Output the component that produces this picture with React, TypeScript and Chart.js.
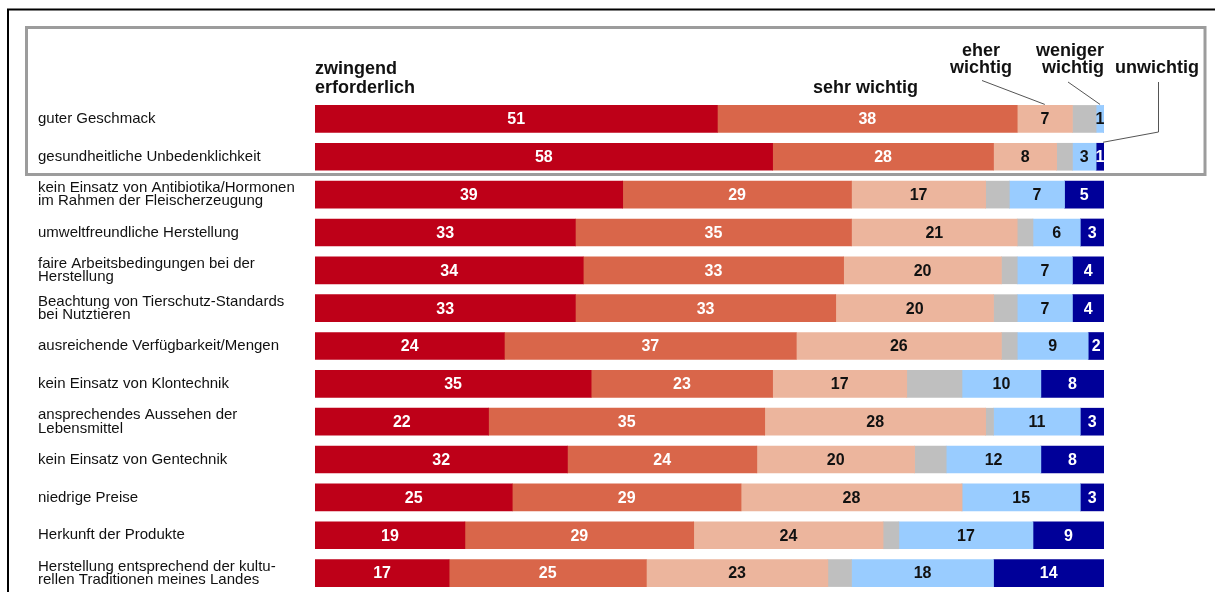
import { useEffect, useRef } from 'react';
import { Chart, registerables } from 'chart.js';

Chart.register(...registerables);

const categories: (string | string[])[] = [
  'guter Geschmack',
  'gesundheitliche Unbedenklichkeit',
  ['kein Einsatz von Antibiotika/Hormonen', 'im Rahmen der Fleischerzeugung'],
  'umweltfreundliche Herstellung',
  ['faire Arbeitsbedingungen bei der', 'Herstellung'],
  ['Beachtung von Tierschutz-Standards', 'bei Nutztieren'],
  'ausreichende Verfügbarkeit/Mengen',
  'kein Einsatz von Klontechnik',
  ['ansprechendes Aussehen der', 'Lebensmittel'],
  'kein Einsatz von Gentechnik',
  'niedrige Preise',
  'Herkunft der Produkte',
  ['Herstellung entsprechend der kultu-', 'rellen Traditionen meines Landes'],
];

const zwingend = [51, 58, 39, 33, 34, 33, 24, 35, 22, 32, 25, 19, 17];
const sehrWichtig = [38, 28, 29, 35, 33, 33, 37, 23, 35, 24, 29, 29, 25];
const eherWichtig = [7, 8, 17, 21, 20, 20, 26, 17, 28, 20, 28, 24, 23];
const keineAngabe = [3, 2, 3, 2, 2, 3, 2, 7, 1, 4, 0, 2, 3];
const wenigerWichtig = [1, 3, 7, 6, 7, 7, 9, 10, 11, 12, 15, 17, 18];
const unwichtig = [0, 1, 5, 3, 4, 4, 2, 8, 3, 8, 3, 9, 14];

const seriesNames = ['zwingend erforderlich', 'sehr wichtig', 'eher wichtig', 'keine Angabe', 'weniger wichtig', 'unwichtig'];
const seriesColors = ['#BE0018', '#D9664A', '#ECB59D', '#BFBFBF', '#99CCFF', '#000099'];
const labelColors = ['#ffffff', '#ffffff', '#111111', null, '#111111', '#ffffff'];

const FONT = '"Liberation Sans", Arial, Helvetica, sans-serif';

const decorPlugin = {
  id: 'decor',
  beforeDraw(chart: any) {
    const ctx = chart.ctx;
    ctx.save();
    ctx.fillStyle = '#ffffff';
    ctx.fillRect(0, 0, chart.width, chart.height);
    ctx.strokeStyle = '#000000';
    ctx.lineWidth = 2;
    ctx.beginPath();
    ctx.moveTo(8, 620);
    ctx.lineTo(8, 9.5);
    ctx.lineTo(1230, 9.5);
    ctx.stroke();
    ctx.strokeStyle = '#9c9c9c';
    ctx.lineWidth = 3;
    ctx.strokeRect(26.5, 27.5, 1178.5, 147);
    ctx.restore();
  },
  afterDatasetsDraw(chart: any) {
    const ctx = chart.ctx;
    ctx.save();
    ctx.font = `bold 16px ${FONT}`;
    ctx.textAlign = 'center';
    ctx.textBaseline = 'middle';
    chart.data.datasets.forEach((ds: any, di: number) => {
      const color = labelColors[di];
      if (!color) return;
      const meta = chart.getDatasetMeta(di);
      meta.data.forEach((el: any, i: number) => {
        const v = ds.data[i];
        if (!v) return;
        ctx.fillStyle = color;
        ctx.fillText(String(v), (el.x + el.base) / 2, el.y + 1);
      });
    });
    ctx.restore();
  },
  afterDraw(chart: any) {
    const ctx = chart.ctx;
    const x0 = chart.scales.x.getPixelForValue(0);
    ctx.save();
    ctx.fillStyle = '#111111';
    ctx.font = `bold 18px ${FONT}`;
    ctx.textBaseline = 'alphabetic';
    ctx.textAlign = 'left';
    ctx.fillText('zwingend', x0, 74);
    ctx.fillText('erforderlich', x0, 93);
    ctx.fillText('sehr wichtig', 813, 93);
    ctx.fillText('unwichtig', 1115, 73);
    ctx.textAlign = 'center';
    ctx.fillText('eher', 981, 56);
    ctx.fillText('wichtig', 981, 73);
    ctx.textAlign = 'right';
    ctx.fillText('weniger', 1104, 56);
    ctx.fillText('wichtig', 1104, 73);

    ctx.strokeStyle = '#555555';
    ctx.lineWidth = 1;
    const e = chart.getDatasetMeta(2).data[0];
    const w = chart.getDatasetMeta(4).data[0];
    const u = chart.getDatasetMeta(5).data[1];
    ctx.beginPath();
    ctx.moveTo(982, 80.5);
    ctx.lineTo((e.x + e.base) / 2, e.y - e.height / 2 - 1);
    ctx.moveTo(1068, 82);
    ctx.lineTo((w.x + w.base) / 2, w.y - w.height / 2 - 1);
    ctx.moveTo(1158.5, 82);
    ctx.lineTo(1158.5, 132);
    ctx.lineTo(u.x - 1, u.y - u.height / 2 - 1);
    ctx.stroke();
    ctx.restore();
  },
};

export default function App() {
  const ref = useRef<HTMLCanvasElement>(null);
  useEffect(() => {
    const values = [zwingend, sehrWichtig, eherWichtig, keineAngabe, wenigerWichtig, unwichtig];
    const chart = new Chart(ref.current as HTMLCanvasElement, {
      type: 'bar',
      data: {
        labels: categories,
        datasets: values.map((d, i) => ({
          label: seriesNames[i],
          data: d,
          backgroundColor: seriesColors[i],
          borderWidth: 0,
          barThickness: 27,
        })),
      },
      options: {
        indexAxis: 'y',
        responsive: false,
        animation: false,
        devicePixelRatio: 1,
        layout: { padding: { left: 38, right: 111, top: 100, bottom: 0 } },
        scales: {
          x: { stacked: true, min: 0, max: 100, display: false },
          y: {
            stacked: true,
            grid: { display: false },
            border: { display: false },
            afterFit: (s: any) => {
              s.width = 277;
              s.paddingTop = 0;
              s.paddingBottom = 0;
            },
            ticks: {
              autoSkip: false,
              crossAlign: 'far',
              padding: 0,
              color: '#111111',
              font: { family: FONT, size: 15, lineHeight: 0.89 },
            },
          },
        },
        plugins: {
          legend: { display: false },
          tooltip: { enabled: false },
        },
      },
      plugins: [decorPlugin],
    } as any);
    return () => chart.destroy();
  }, []);
  return (
    <div style={{ position: 'absolute', left: 0, top: 0, width: 1215, height: 592, overflow: 'hidden', background: '#fff' }}>
      <canvas ref={ref} width={1215} height={592} style={{ display: 'block' }} />
    </div>
  );
}
